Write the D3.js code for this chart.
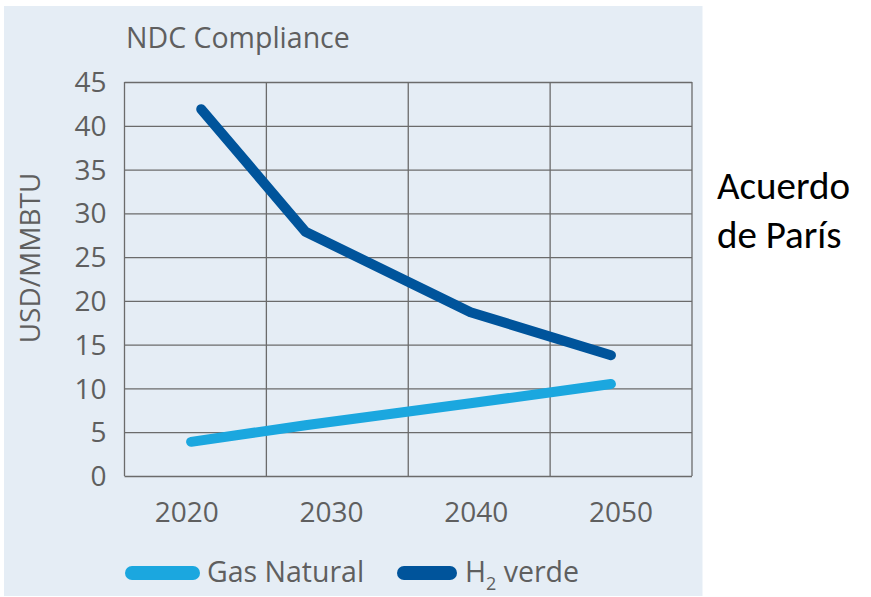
<!DOCTYPE html>
<html>
<head>
<meta charset="utf-8">
<script src="https://cdn.jsdelivr.net/npm/d3@7"></script>
<style>
  body { margin: 0; background: #fff; }
  svg text { font-family: "Open Sans", sans-serif; fill: #5f5f5f; font-weight: 500; }
</style>
</head>
<body>
<svg id="chart" width="871" height="597"></svg>
<script>
// values (x positions in years, y in USD/MMBTU)
const gasYears = [2020.3, 2028.2, 2039.6, 2049.3];
const gasValues = [3.9, 5.8, 8.3, 10.5];
const h2Years = [2021, 2028.2, 2039.6, 2049.3];
const h2Values = [41.9, 27.9, 18.7, 13.8];
const xTicks = [2020, 2030, 2040, 2050];
const yTicks = [0, 5, 10, 15, 20, 25, 30, 35, 40, 45];
const seriesNames = ["Gas Natural", "H2 verde"];
const seriesColors = ["#1ba7df", "#00549b"];

const svg = d3.select("#chart");

const margin = { top: 82, left: 124.5, right: 179, bottom: 121 },
    width = 871 - margin.left - margin.right,
    height = 597 - margin.top - margin.bottom;

// background panel
svg.append("rect")
    .attr("x", 4).attr("y", 6)
    .attr("width", 698.5).attr("height", 590)
    .attr("fill", "#e5edf5");

const g = svg.append("g")
    .attr("transform", "translate(" + margin.left + "," + margin.top + ")");

const x = d3.scaleLinear().domain([2015.7, 2054.9]).range([0, width]);
const y = d3.scaleLinear().domain([0, 45]).range([height, 0]);

// horizontal grid
g.append("g")
    .attr("class", "grid")
    .call(d3.axisLeft(y).tickValues(yTicks).tickSize(-width).tickFormat(""))
    .call(a => a.select(".domain").remove())
    .selectAll("line")
    .attr("stroke", "#6b6b6b")
    .attr("stroke-width", 1.3);

// vertical grid (plot split in four columns)
g.append("g")
    .selectAll("line")
    .data(d3.range(5))
    .enter()
    .append("line")
    .attr("x1", i => i * width / 4)
    .attr("x2", i => i * width / 4)
    .attr("y1", 0)
    .attr("y2", height)
    .attr("stroke", "#6b6b6b")
    .attr("stroke-width", 1.3);

// y tick labels
g.append("g")
    .selectAll("text")
    .data(yTicks)
    .enter()
    .append("text")
    .attr("x", -18)
    .attr("y", d => y(d))
    .attr("dy", "0.36em")
    .attr("text-anchor", "end")
    .style("font-size", "28px")
    .text(d => d);

// x tick labels
g.append("g")
    .selectAll("text")
    .data(xTicks)
    .enter()
    .append("text")
    .attr("x", d => x(d))
    .attr("y", height + 46)
    .attr("text-anchor", "middle")
    .style("font-size", "28px")
    .text(d => d);

// y axis label
svg.append("text")
    .attr("transform", "translate(40,258) rotate(-90)")
    .attr("text-anchor", "middle")
    .style("font-size", "28px")
    .text("USD/MMBTU");

// title
svg.append("text")
    .attr("x", 126)
    .attr("y", 48)
    .style("font-size", "28.5px")
    .text("NDC Compliance");

const line = d3.line()
    .x(d => x(d[0]))
    .y(d => y(d[1]));

const series = [
    d3.zip(gasYears, gasValues),
    d3.zip(h2Years, h2Values)
];

g.selectAll(".series")
    .data(series)
    .enter()
    .append("path")
    .attr("d", d => line(d))
    .attr("fill", "none")
    .attr("stroke", (d, i) => seriesColors[i])
    .attr("stroke-width", 10)
    .attr("stroke-linecap", "round")
    .attr("stroke-linejoin", "round");

// legend
const legend = svg.append("g");
const legendX = [132, 404];
const legendLen = [61, 46];
seriesNames.forEach((name, i) => {
    legend.append("line")
        .attr("x1", legendX[i]).attr("x2", legendX[i] + legendLen[i])
        .attr("y1", 573).attr("y2", 573)
        .attr("stroke", seriesColors[i])
        .attr("stroke-width", 14)
        .attr("stroke-linecap", "round");
});
legend.append("text")
    .attr("x", 207).attr("y", 582)
    .style("font-size", "28.5px")
    .text("Gas Natural");
const h2 = legend.append("text")
    .attr("x", 465).attr("y", 582)
    .style("font-size", "28.5px");
h2.append("tspan").text("H");
h2.append("tspan").attr("dy", 8).style("font-size", "18px").text("2");
h2.append("tspan").attr("dy", -8).text(" verde");

// side note
const note = svg.append("text")
    .style("font-family", "Carlito, Lato, sans-serif")
    .style("font-weight", "normal")
    .style("fill", "#000")
    .style("font-size", "39px");
note.append("tspan").attr("x", 717).attr("y", 199).text("Acuerdo");
note.append("tspan").attr("x", 717).attr("y", 248).text("de París");
</script>
</body>
</html>
